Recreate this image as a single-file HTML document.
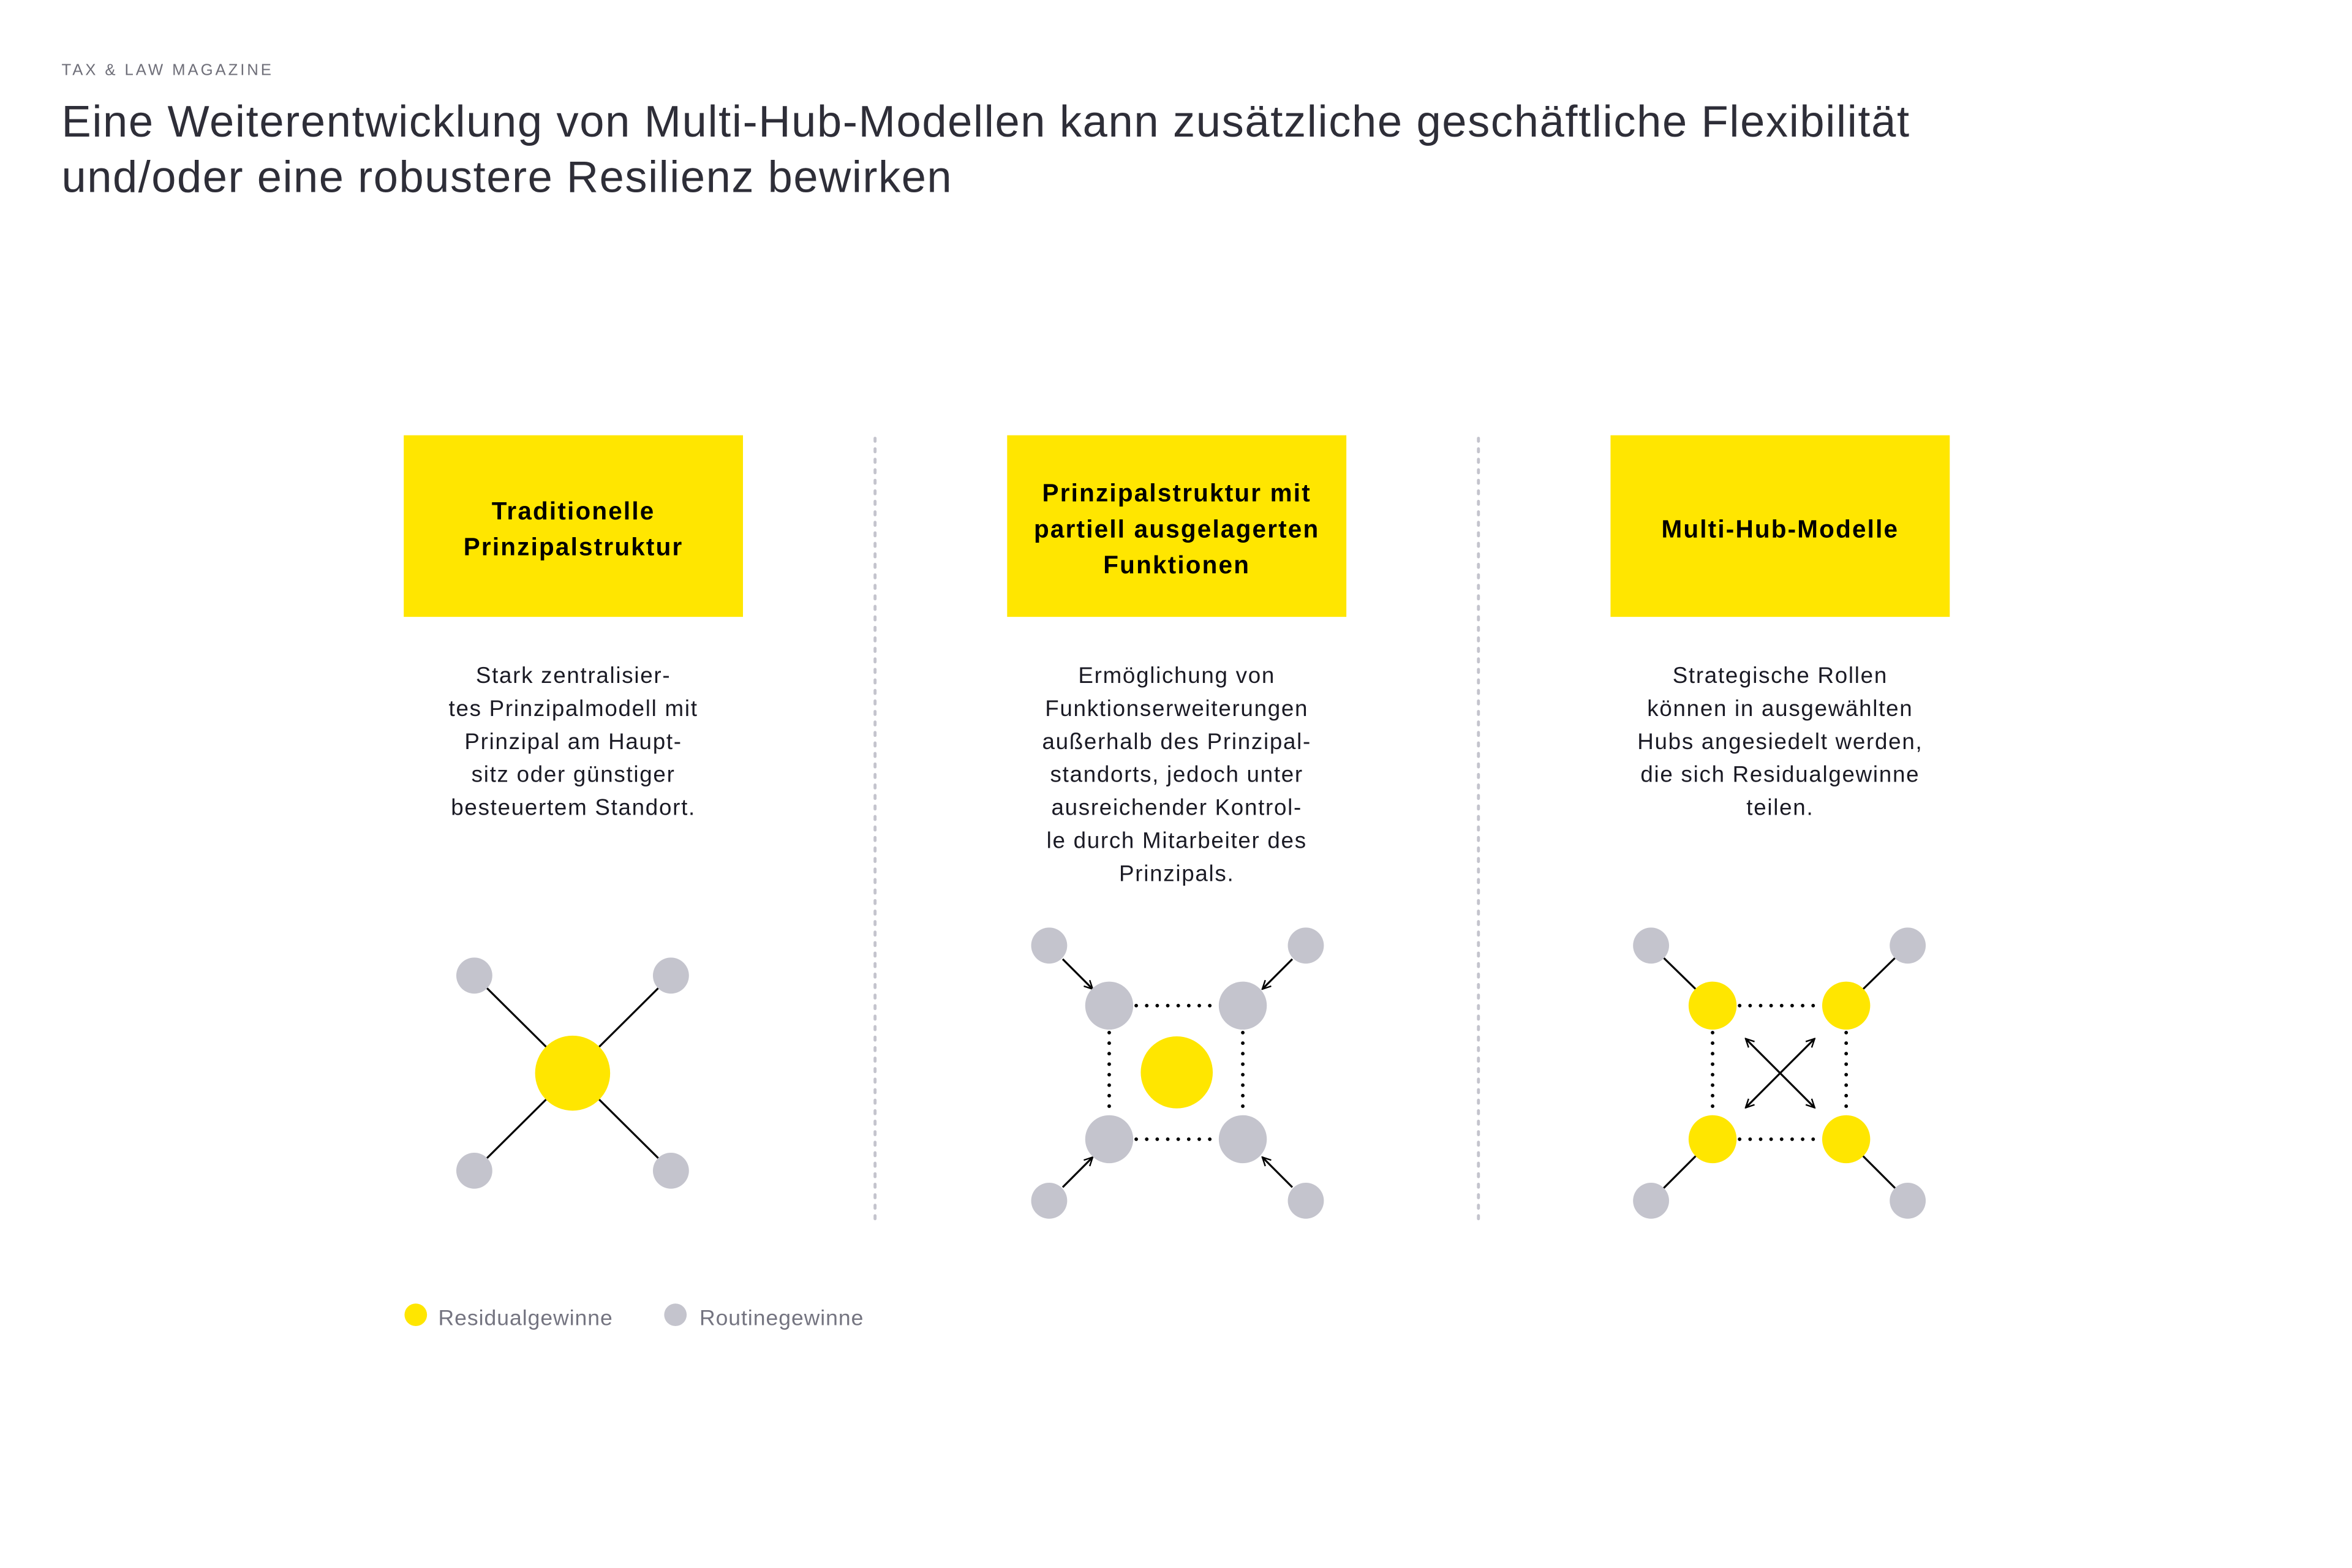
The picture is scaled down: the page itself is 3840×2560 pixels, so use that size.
<!DOCTYPE html>
<html><head><meta charset="utf-8"><style>
html,body{margin:0;padding:0;background:#fff;}
svg{display:block;}
text{font-family:"Liberation Sans",sans-serif;}
</style></head><body>
<svg width="3840" height="2560" viewBox="0 0 1567 1044.7" preserveAspectRatio="none" xmlns="http://www.w3.org/2000/svg">
<defs>
<marker id="ah" viewBox="0 0 10 10" refX="9" refY="5" markerWidth="7" markerHeight="7" orient="auto-start-reverse" markerUnits="userSpaceOnUse">
<path d="M1,1 L9,5 L1,9" fill="none" stroke="#000" stroke-width="1.4"/>
</marker>
</defs>
<rect width="1567" height="1045" fill="#fff"/>
<text x="41" y="50" font-size="10.5" fill="#6e6e78" letter-spacing="1.6">TAX &amp; LAW MAGAZINE</text>
<text x="41" y="91" font-size="29.5" fill="#2e2e38" textLength="1231" lengthAdjust="spacing">Eine Weiterentwicklung von Multi-Hub-Modellen kann zusätzliche geschäftliche Flexibilität</text>
<text x="41" y="128" font-size="29.5" fill="#2e2e38" textLength="593" lengthAdjust="spacing">und/oder eine robustere Resilienz bewirken</text>

<g fill="#ffe600">
<rect x="269" y="290" width="226" height="121"/>
<rect x="671" y="290" width="226" height="121"/>
<rect x="1073" y="290" width="226" height="121"/>
</g>
<g font-size="16.5" font-weight="bold" fill="#000" text-anchor="middle" letter-spacing="0.9">
<text x="382" y="346">Traditionelle</text>
<text x="382" y="370">Prinzipalstruktur</text>
<text x="784" y="334">Prinzipalstruktur mit</text>
<text x="784" y="358">partiell ausgelagerten</text>
<text x="784" y="382">Funktionen</text>
<text x="1186" y="358">Multi-Hub-Modelle</text>
</g>

<g stroke="#c4c4cd" stroke-width="2" stroke-dasharray="2 5" stroke-linecap="round">
<line x1="583" y1="292" x2="583" y2="812"/>
<line x1="985" y1="292" x2="985" y2="812"/>
</g>

<g font-size="15" fill="#1a1a24" text-anchor="middle" letter-spacing="0.7">
<text x="382" y="455">Stark zentralisier-</text>
<text x="382" y="477">tes Prinzipalmodell mit</text>
<text x="382" y="499">Prinzipal am Haupt-</text>
<text x="382" y="521">sitz oder günstiger</text>
<text x="382" y="543">besteuertem Standort.</text>
<text x="784" y="455">Ermöglichung von</text>
<text x="784" y="477">Funktionserweiterungen</text>
<text x="784" y="499">außerhalb des Prinzipal-</text>
<text x="784" y="521">standorts, jedoch unter</text>
<text x="784" y="543">ausreichender Kontrol-</text>
<text x="784" y="565">le durch Mitarbeiter des</text>
<text x="784" y="587">Prinzipals.</text>
<text x="1186" y="455">Strategische Rollen</text>
<text x="1186" y="477">können in ausgewählten</text>
<text x="1186" y="499">Hubs angesiedelt werden,</text>
<text x="1186" y="521">die sich Residualgewinne</text>
<text x="1186" y="543">teilen.</text>
</g>

<!-- Diagram 1 -->
<g stroke="#000" stroke-width="1.3">
<line x1="316" y1="650" x2="447" y2="780"/>
<line x1="447" y1="650" x2="316" y2="780"/>
</g>
<g fill="#c4c4cd">
<circle cx="316" cy="650" r="12"/><circle cx="447" cy="650" r="12"/>
<circle cx="316" cy="780" r="12"/><circle cx="447" cy="780" r="12"/>
</g>
<circle cx="381.5" cy="715" r="25" fill="#ffe600"/>

<!-- Diagram 2 -->
<g stroke="#000" stroke-width="2.4" stroke-dasharray="0 7" stroke-linecap="round">
<line x1="757" y1="670" x2="812" y2="670"/>
<line x1="757" y1="759" x2="812" y2="759"/>
<line x1="739" y1="688" x2="739" y2="742"/>
<line x1="828" y1="688" x2="828" y2="742"/>
</g>
<g stroke="#000" stroke-width="1.3" marker-end="url(#ah)">
<line x1="708" y1="639" x2="728" y2="659"/>
<line x1="861" y1="639" x2="841" y2="659"/>
<line x1="708" y1="791" x2="728" y2="771"/>
<line x1="861" y1="791" x2="841" y2="771"/>
</g>
<g fill="#c4c4cd">
<circle cx="699" cy="630" r="12"/><circle cx="870" cy="630" r="12"/>
<circle cx="699" cy="800" r="12"/><circle cx="870" cy="800" r="12"/>
<circle cx="739" cy="670" r="16"/><circle cx="828" cy="670" r="16"/>
<circle cx="739" cy="759" r="16"/><circle cx="828" cy="759" r="16"/>
</g>
<circle cx="784" cy="714.5" r="24" fill="#ffe600"/>

<!-- Diagram 3 -->
<g stroke="#000" stroke-width="1.3">
<line x1="1100" y1="630" x2="1141" y2="670"/>
<line x1="1271" y1="630" x2="1230" y2="670"/>
<line x1="1100" y1="800" x2="1141" y2="759"/>
<line x1="1271" y1="800" x2="1230" y2="759"/>
</g>
<g stroke="#000" stroke-width="2.4" stroke-dasharray="0 7" stroke-linecap="round">
<line x1="1159" y1="670" x2="1214" y2="670"/>
<line x1="1159" y1="759" x2="1214" y2="759"/>
<line x1="1141" y1="688" x2="1141" y2="742"/>
<line x1="1230" y1="688" x2="1230" y2="742"/>
</g>
<g stroke="#000" stroke-width="1.3" marker-end="url(#ah)" marker-start="url(#ah)">
<line x1="1163" y1="692" x2="1209" y2="738"/>
<line x1="1209" y1="692" x2="1163" y2="738"/>
</g>
<g fill="#c4c4cd">
<circle cx="1100" cy="630" r="12"/><circle cx="1271" cy="630" r="12"/>
<circle cx="1100" cy="800" r="12"/><circle cx="1271" cy="800" r="12"/>
</g>
<g fill="#ffe600">
<circle cx="1141" cy="670" r="16"/><circle cx="1230" cy="670" r="16"/>
<circle cx="1141" cy="759" r="16"/><circle cx="1230" cy="759" r="16"/>
</g>

<!-- Legend -->
<circle cx="277" cy="876" r="7.5" fill="#ffe600"/>
<circle cx="450" cy="876" r="7.5" fill="#c4c4cd"/>
<g font-size="14.5" fill="#747480" letter-spacing="0.4">
<text x="292" y="883">Residualgewinne</text>
<text x="466" y="883">Routinegewinne</text>
</g>
</svg>
</body></html>
